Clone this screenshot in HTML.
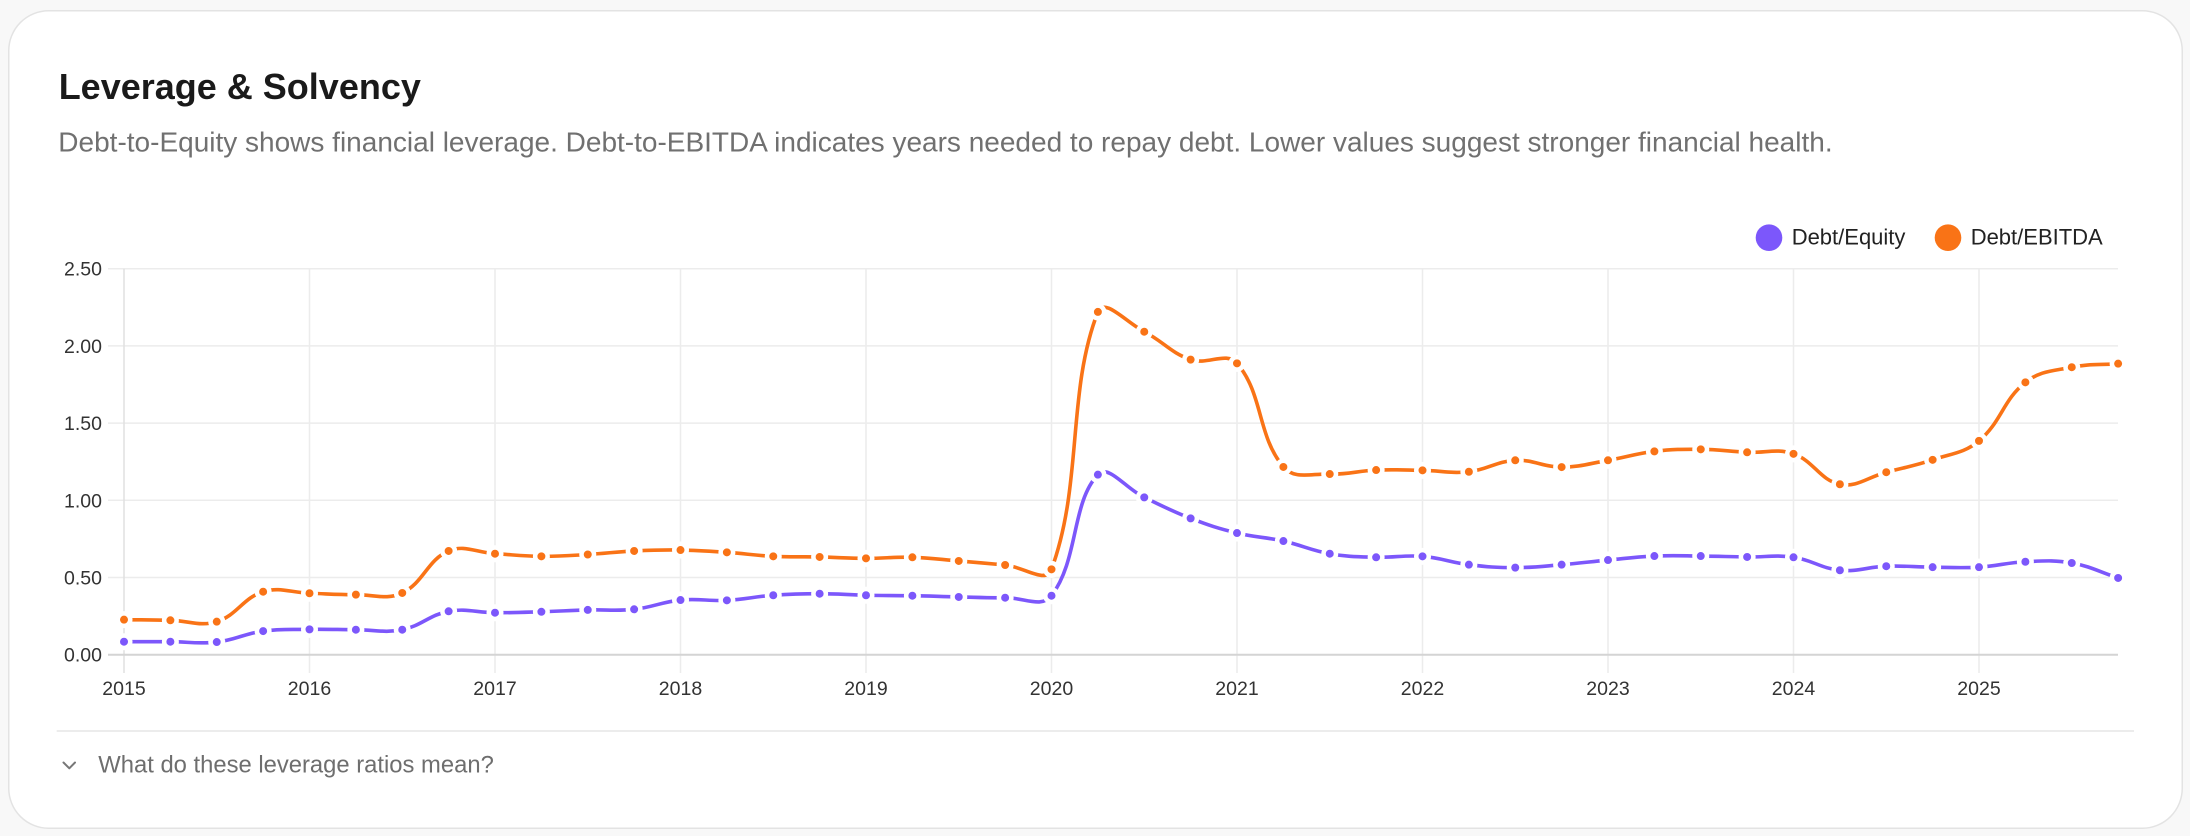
<!DOCTYPE html>
<html>
<head>
<meta charset="utf-8">
<style>
  html, body { margin: 0; padding: 0; background: #f8f8f8; }
  body { width: 2190px; height: 836px; overflow: hidden; }
  svg { display: block; font-family: "Liberation Sans", Arial, sans-serif; }
</style>
</head>
<body>
<svg id="chart" width="2190" height="836" viewBox="0 0 2190 836" xmlns="http://www.w3.org/2000/svg">
  <rect x="0" y="0" width="2190" height="836" fill="#f8f8f8"/>
  <rect x="8.75" y="10.75" width="2173.5" height="817.5" rx="40" ry="40" fill="#ffffff" stroke="#e3e3e3" stroke-width="1.5"/>

  <text x="58.7" y="99" font-size="36" font-weight="bold" fill="#1a1a1a">Leverage &amp; Solvency</text>
  <text x="58.3" y="151.7" font-size="28" fill="#707070">Debt-to-Equity shows financial leverage. Debt-to-EBITDA indicates years needed to repay debt. Lower values suggest stronger financial health.</text>

  <!-- legend -->
  <circle cx="1769" cy="237.7" r="13.3" fill="#7c57fb"/>
  <text x="1791.7" y="244.3" font-size="22" fill="#222222">Debt/Equity</text>
  <circle cx="1948" cy="237.7" r="13.3" fill="#f97316"/>
  <text x="1970.7" y="244.3" font-size="22" fill="#222222">Debt/EBITDA</text>

  <!-- vertical gridlines -->
  <g stroke="#ececec" stroke-width="1.5">
    <line x1="309.5" y1="268.7" x2="309.5" y2="673"/>
    <line x1="495" y1="268.7" x2="495" y2="673"/>
    <line x1="680.5" y1="268.7" x2="680.5" y2="673"/>
    <line x1="866" y1="268.7" x2="866" y2="673"/>
    <line x1="1051.5" y1="268.7" x2="1051.5" y2="673"/>
    <line x1="1237" y1="268.7" x2="1237" y2="673"/>
    <line x1="1422.5" y1="268.7" x2="1422.5" y2="673"/>
    <line x1="1608" y1="268.7" x2="1608" y2="673"/>
    <line x1="1793.5" y1="268.7" x2="1793.5" y2="673"/>
    <line x1="1979" y1="268.7" x2="1979" y2="673"/>
  </g>
  <!-- horizontal gridlines -->
  <g stroke="#ececec" stroke-width="1.5">
    <line x1="108" y1="577.5" x2="2118" y2="577.5"/>
    <line x1="108" y1="500.3" x2="2118" y2="500.3"/>
    <line x1="108" y1="423.1" x2="2118" y2="423.1"/>
    <line x1="108" y1="345.9" x2="2118" y2="345.9"/>
    <line x1="108" y1="268.7" x2="2118" y2="268.7"/>
  </g>
  <!-- axes -->
  <line x1="124" y1="268.7" x2="124" y2="673" stroke="#e0e0e0" stroke-width="1.5"/>
  <line x1="108" y1="654.7" x2="2118" y2="654.7" stroke="#d4d4d4" stroke-width="2"/>

  <!-- y labels -->
  <g font-size="19.5" fill="#333333" text-anchor="end">
    <text x="102" y="661.7">0.00</text>
    <text x="102" y="584.5">0.50</text>
    <text x="102" y="507.3">1.00</text>
    <text x="102" y="430.1">1.50</text>
    <text x="102" y="352.9">2.00</text>
    <text x="102" y="275.7">2.50</text>
  </g>
  <!-- x labels -->
  <g font-size="19.5" fill="#333333" text-anchor="middle">
    <text x="124" y="695">2015</text>
    <text x="309.5" y="695">2016</text>
    <text x="495" y="695">2017</text>
    <text x="680.5" y="695">2018</text>
    <text x="866" y="695">2019</text>
    <text x="1051.5" y="695">2020</text>
    <text x="1237" y="695">2021</text>
    <text x="1422.5" y="695">2022</text>
    <text x="1608" y="695">2023</text>
    <text x="1793.5" y="695">2024</text>
    <text x="1979" y="695">2025</text>
  </g>

  <g id="series"></g>

  <!-- divider + disclosure -->
  <line x1="56.7" y1="731" x2="2134" y2="731" stroke="#e5e5e5" stroke-width="1.5"/>
  <polyline points="63.5,762.5 69.3,768.3 75,762.5" fill="none" stroke="#777777" stroke-width="2" stroke-linecap="round" stroke-linejoin="round"/>
  <text x="98.3" y="772.5" font-size="23.8" fill="#6e6e6e">What do these leverage ratios mean?</text>
</svg>

<script>
(function(){
  var de = [0.084,0.084,0.082,0.153,0.164,0.162,0.162,0.281,0.272,0.278,
            0.290,0.294,0.354,0.352,0.385,0.395,0.385,0.382,0.374,0.369,
            0.382,1.166,1.019,0.883,0.788,0.736,0.654,0.631,0.637,0.583,
            0.564,0.583,0.613,0.639,0.639,0.633,0.631,0.547,0.573,0.567,
            0.567,0.602,0.594,0.497];
  var eb = [0.227,0.223,0.214,0.408,0.398,0.389,0.400,0.672,0.654,0.637,
            0.649,0.672,0.678,0.663,0.637,0.633,0.624,0.631,0.607,0.581,
            0.553,2.220,2.092,1.911,1.887,1.216,1.170,1.196,1.194,1.185,
            1.259,1.215,1.259,1.317,1.330,1.311,1.301,1.104,1.182,1.262,
            1.385,1.764,1.862,1.885];
  var X0 = 124, DX = 46.375, Y0 = 654.7, SY = 154.4;
  var area = {l:124, r:2118, t:268.7, b:654.7};
  var NS = "http://www.w3.org/2000/svg";
  var g = document.getElementById("series");

  function pts(arr){
    return arr.map(function(v,i){ return {x: X0 + DX*i, y: Y0 - SY*v}; });
  }
  function clamp(v,a,b){ return Math.max(a, Math.min(b, v)); }
  function path(p, t){
    var n = p.length, cps = [];
    for (var i=0;i<n;i++){
      var prev = p[Math.max(0,i-1)], cur = p[i], next = p[Math.min(n-1,i+1)];
      var d01 = Math.hypot(cur.x-prev.x, cur.y-prev.y);
      var d12 = Math.hypot(next.x-cur.x, next.y-cur.y);
      var s01 = d01/(d01+d12), s12 = d12/(d01+d12);
      if (isNaN(s01)) s01 = 0; if (isNaN(s12)) s12 = 0;
      var fa = t*s01, fb = t*s12;
      cps.push({
        px: clamp(cur.x - fa*(next.x-prev.x), area.l, area.r),
        py: clamp(cur.y - fa*(next.y-prev.y), area.t, area.b),
        nx: clamp(cur.x + fb*(next.x-prev.x), area.l, area.r),
        ny: clamp(cur.y + fb*(next.y-prev.y), area.t, area.b)
      });
    }
    var d = "M" + p[0].x.toFixed(2) + "," + p[0].y.toFixed(2);
    for (var j=0;j<n-1;j++){
      d += " C" + cps[j].nx.toFixed(2) + "," + cps[j].ny.toFixed(2) + " " +
           cps[j+1].px.toFixed(2) + "," + cps[j+1].py.toFixed(2) + " " +
           p[j+1].x.toFixed(2) + "," + p[j+1].y.toFixed(2);
    }
    return d;
  }
  function draw(arr, color){
    var p = pts(arr);
    var pe = document.createElementNS(NS, "path");
    pe.setAttribute("d", path(p, 0.4));
    pe.setAttribute("fill", "none");
    pe.setAttribute("stroke", color);
    pe.setAttribute("stroke-width", "3.6");
    pe.setAttribute("stroke-linejoin", "round");
    pe.setAttribute("stroke-linecap", "round");
    g.appendChild(pe);
    p.forEach(function(q){
      var c = document.createElementNS(NS, "circle");
      c.setAttribute("cx", q.x.toFixed(2));
      c.setAttribute("cy", q.y.toFixed(2));
      c.setAttribute("r", "6.25");
      c.setAttribute("fill", color);
      c.setAttribute("stroke", "#ffffff");
      c.setAttribute("stroke-width", "4.5");
      g.appendChild(c);
    });
  }
  draw(eb, "#f97316");
  draw(de, "#7c57fb");
})();
</script>
</body>
</html>
